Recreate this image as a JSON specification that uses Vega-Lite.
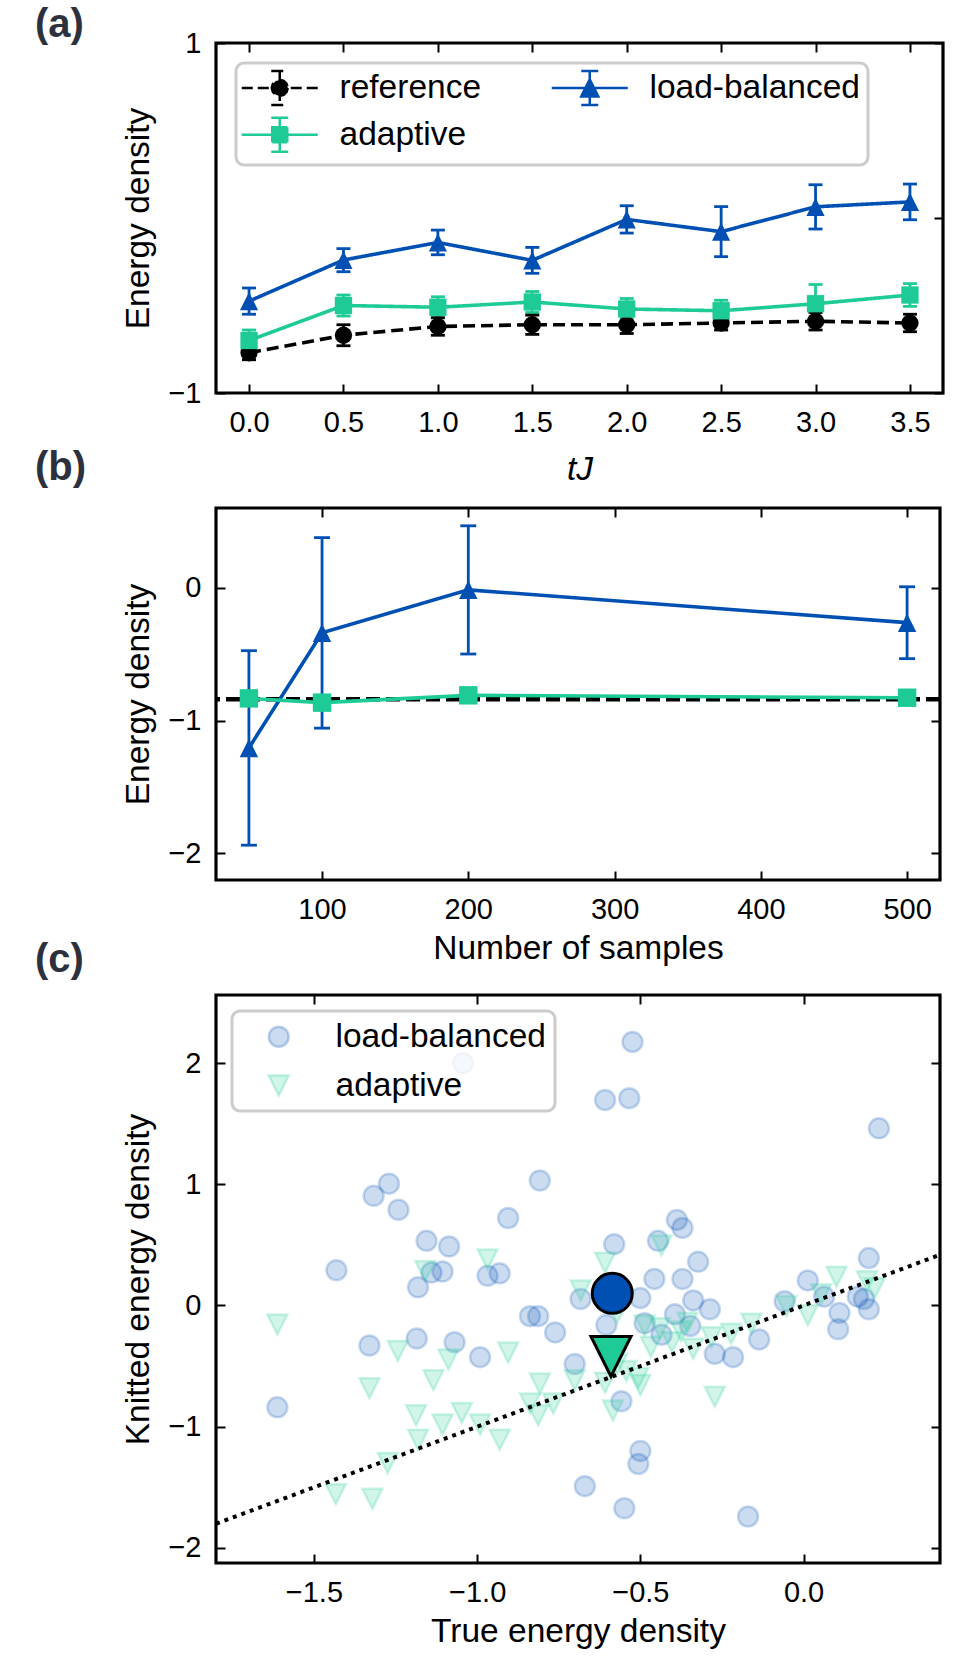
{
  "$schema": "https://vega.github.io/schema/vega-lite/v6.json",
  "background": "white",
  "padding": {"left": 33, "top": 3, "right": 5, "bottom": 5},
  "bounds": "flush",
  "spacing": 115,
  "resolve": {
    "scale": {"color": "independent", "shape": "independent", "stroke": "independent", "strokeDash": "independent", "size": "independent"},
    "legend": {"color": "independent", "shape": "independent", "stroke": "independent", "strokeDash": "independent", "size": "independent"}
  },
  "config": {
    "font": "Liberation Sans",
    "view": {"stroke": "black", "strokeWidth": 3.2},
    "axis": {
      "grid": false, "domain": false, "ticks": true, "tickSize": -9, "tickWidth": 2, "tickColor": "black",
      "labelFont": "Liberation Sans", "labelFontSize": 29, "labelColor": "black", "labelPadding": 24,
      "labelOverlap": false, "labelFlush": false,
      "titleFont": "Liberation Sans", "titleFontSize": 33.5, "titleFontWeight": "normal", "titleColor": "black"
    },
    "axisX": {"titlePadding": 8},
    "axisY": {"titlePadding": 12}
  },
  "datasets": {
    "a": [
      {"series": "reference", "x": 0, "y": -0.77, "lo": -0.81, "hi": -0.73},
      {"series": "reference", "x": 0.5, "y": -0.67, "lo": -0.73, "hi": -0.61},
      {"series": "reference", "x": 1.0, "y": -0.62, "lo": -0.67, "hi": -0.57},
      {"series": "reference", "x": 1.5, "y": -0.61, "lo": -0.665, "hi": -0.555},
      {"series": "reference", "x": 2.0, "y": -0.61, "lo": -0.66, "hi": -0.56},
      {"series": "reference", "x": 2.5, "y": -0.6, "lo": -0.64, "hi": -0.56},
      {"series": "reference", "x": 3.0, "y": -0.59, "lo": -0.64, "hi": -0.54},
      {"series": "reference", "x": 3.5, "y": -0.6, "lo": -0.65, "hi": -0.55},
      {"series": "adaptive", "x": 0, "y": -0.7, "lo": -0.76, "hi": -0.64},
      {"series": "adaptive", "x": 0.5, "y": -0.5, "lo": -0.56, "hi": -0.44},
      {"series": "adaptive", "x": 1.0, "y": -0.51, "lo": -0.57, "hi": -0.45},
      {"series": "adaptive", "x": 1.5, "y": -0.48, "lo": -0.54, "hi": -0.42},
      {"series": "adaptive", "x": 2.0, "y": -0.52, "lo": -0.58, "hi": -0.46},
      {"series": "adaptive", "x": 2.5, "y": -0.53, "lo": -0.59, "hi": -0.47},
      {"series": "adaptive", "x": 3.0, "y": -0.49, "lo": -0.6, "hi": -0.38},
      {"series": "adaptive", "x": 3.5, "y": -0.44, "lo": -0.505, "hi": -0.375},
      {"series": "load-balanced", "x": 0, "y": -0.475, "lo": -0.55, "hi": -0.4},
      {"series": "load-balanced", "x": 0.5, "y": -0.24, "lo": -0.307, "hi": -0.175},
      {"series": "load-balanced", "x": 1.0, "y": -0.14, "lo": -0.21, "hi": -0.069},
      {"series": "load-balanced", "x": 1.5, "y": -0.242, "lo": -0.316, "hi": -0.168},
      {"series": "load-balanced", "x": 2.0, "y": -0.008, "lo": -0.086, "hi": 0.07},
      {"series": "load-balanced", "x": 2.5, "y": -0.078, "lo": -0.221, "hi": 0.065},
      {"series": "load-balanced", "x": 3.0, "y": 0.064, "lo": -0.063, "hi": 0.19},
      {"series": "load-balanced", "x": 3.5, "y": 0.092, "lo": -0.01, "hi": 0.194}
    ],
    "bref": [{"y": -0.84}],
    "b": [
      {"series": "load-balanced", "x": 50, "y": -1.206, "lo": -1.938, "hi": -0.474},
      {"series": "load-balanced", "x": 100, "y": -0.34, "lo": -1.057, "hi": 0.377},
      {"series": "load-balanced", "x": 200, "y": -0.016, "lo": -0.499, "hi": 0.466},
      {"series": "load-balanced", "x": 500, "y": -0.263, "lo": -0.534, "hi": 0.007},
      {"series": "adaptive", "x": 50, "y": -0.833, "lo": -0.853, "hi": -0.813},
      {"series": "adaptive", "x": 100, "y": -0.865, "lo": -0.895, "hi": -0.835},
      {"series": "adaptive", "x": 200, "y": -0.81, "lo": -0.83, "hi": -0.79},
      {"series": "adaptive", "x": 500, "y": -0.828, "lo": -0.848, "hi": -0.808}
    ],
    "cpts": [
      {"series": "load-balanced", "x": -0.524, "y": 2.174},
      {"series": "load-balanced", "x": -1.043, "y": 1.998},
      {"series": "load-balanced", "x": -0.608, "y": 1.695},
      {"series": "load-balanced", "x": -0.534, "y": 1.71},
      {"series": "load-balanced", "x": 0.231, "y": 1.461},
      {"series": "load-balanced", "x": -1.27, "y": 1.005},
      {"series": "load-balanced", "x": -1.317, "y": 0.905},
      {"series": "load-balanced", "x": -0.808, "y": 1.031},
      {"series": "load-balanced", "x": -1.241, "y": 0.79},
      {"series": "load-balanced", "x": -0.905, "y": 0.721},
      {"series": "load-balanced", "x": -0.388, "y": 0.706},
      {"series": "load-balanced", "x": -0.371, "y": 0.64},
      {"series": "load-balanced", "x": -1.155, "y": 0.533},
      {"series": "load-balanced", "x": -1.086, "y": 0.487},
      {"series": "load-balanced", "x": -0.58, "y": 0.506},
      {"series": "load-balanced", "x": -0.446, "y": 0.533},
      {"series": "load-balanced", "x": -0.323, "y": 0.36},
      {"series": "load-balanced", "x": -1.431, "y": 0.291},
      {"series": "load-balanced", "x": -1.14, "y": 0.272},
      {"series": "load-balanced", "x": -1.106, "y": 0.28},
      {"series": "load-balanced", "x": -0.968, "y": 0.245},
      {"series": "load-balanced", "x": -0.931, "y": 0.265},
      {"series": "load-balanced", "x": -1.181, "y": 0.15},
      {"series": "load-balanced", "x": -0.457, "y": 0.219},
      {"series": "load-balanced", "x": -0.371, "y": 0.219},
      {"series": "load-balanced", "x": 0.2, "y": 0.391},
      {"series": "load-balanced", "x": 0.013, "y": 0.207},
      {"series": "load-balanced", "x": -0.683, "y": 0.054},
      {"series": "load-balanced", "x": -0.5, "y": 0.061},
      {"series": "load-balanced", "x": -0.338, "y": 0.042},
      {"series": "load-balanced", "x": -0.287, "y": -0.031},
      {"series": "load-balanced", "x": -0.058, "y": 0.035},
      {"series": "load-balanced", "x": 0.063, "y": 0.073},
      {"series": "load-balanced", "x": 0.11, "y": -0.061},
      {"series": "load-balanced", "x": 0.166, "y": 0.073},
      {"series": "load-balanced", "x": 0.2, "y": -0.031},
      {"series": "load-balanced", "x": 0.185, "y": 0.054},
      {"series": "load-balanced", "x": -0.838, "y": -0.088},
      {"series": "load-balanced", "x": -0.813, "y": -0.088},
      {"series": "load-balanced", "x": -0.761, "y": -0.222},
      {"series": "load-balanced", "x": -0.604, "y": -0.161},
      {"series": "load-balanced", "x": -0.487, "y": -0.146},
      {"series": "load-balanced", "x": -0.394, "y": -0.073},
      {"series": "load-balanced", "x": -0.435, "y": -0.242},
      {"series": "load-balanced", "x": -0.347, "y": -0.169},
      {"series": "load-balanced", "x": 0.106, "y": -0.196},
      {"series": "load-balanced", "x": -0.136, "y": -0.28},
      {"series": "load-balanced", "x": -1.185, "y": -0.272},
      {"series": "load-balanced", "x": -1.069, "y": -0.303},
      {"series": "load-balanced", "x": -1.33, "y": -0.33},
      {"series": "load-balanced", "x": -0.991, "y": -0.426},
      {"series": "load-balanced", "x": -0.272, "y": -0.399},
      {"series": "load-balanced", "x": -0.216, "y": -0.426},
      {"series": "load-balanced", "x": -0.701, "y": -0.483},
      {"series": "load-balanced", "x": -0.558, "y": -0.79},
      {"series": "load-balanced", "x": -1.612, "y": -0.84},
      {"series": "load-balanced", "x": -0.5, "y": -1.2},
      {"series": "load-balanced", "x": -0.506, "y": -1.307},
      {"series": "load-balanced", "x": -0.67, "y": -1.49},
      {"series": "load-balanced", "x": -0.549, "y": -1.672},
      {"series": "load-balanced", "x": -0.17, "y": -1.741},
      {"series": "adaptive", "x": -1.612, "y": -0.157},
      {"series": "adaptive", "x": -0.435, "y": 0.495},
      {"series": "adaptive", "x": -0.608, "y": 0.353},
      {"series": "adaptive", "x": -0.968, "y": 0.38},
      {"series": "adaptive", "x": -1.159, "y": 0.284},
      {"series": "adaptive", "x": -0.683, "y": 0.123},
      {"series": "adaptive", "x": 0.101, "y": 0.238},
      {"series": "adaptive", "x": 0.194, "y": 0.2},
      {"series": "adaptive", "x": 0.218, "y": 0.142},
      {"series": "adaptive", "x": 0.054, "y": 0.092},
      {"series": "adaptive", "x": -0.052, "y": -0.004},
      {"series": "adaptive", "x": 0.013, "y": -0.081},
      {"series": "adaptive", "x": -0.16, "y": -0.15},
      {"series": "adaptive", "x": -0.222, "y": -0.234},
      {"series": "adaptive", "x": -0.282, "y": -0.261},
      {"series": "adaptive", "x": -0.375, "y": -0.215},
      {"series": "adaptive", "x": -0.44, "y": -0.188},
      {"series": "adaptive", "x": -0.403, "y": -0.303},
      {"series": "adaptive", "x": -0.338, "y": -0.357},
      {"series": "adaptive", "x": -0.468, "y": -0.341},
      {"series": "adaptive", "x": -0.571, "y": -0.061},
      {"series": "adaptive", "x": -1.243, "y": -0.376},
      {"series": "adaptive", "x": -1.088, "y": -0.445},
      {"series": "adaptive", "x": -0.905, "y": -0.387},
      {"series": "adaptive", "x": -1.33, "y": -0.683},
      {"series": "adaptive", "x": -1.134, "y": -0.617},
      {"series": "adaptive", "x": -0.808, "y": -0.644},
      {"series": "adaptive", "x": -0.701, "y": -0.617},
      {"series": "adaptive", "x": -0.608, "y": -0.637},
      {"series": "adaptive", "x": -0.543, "y": -0.541},
      {"series": "adaptive", "x": -0.506, "y": -0.598},
      {"series": "adaptive", "x": -0.5, "y": -0.656},
      {"series": "adaptive", "x": -0.571, "y": -0.483},
      {"series": "adaptive", "x": -1.187, "y": -0.905},
      {"series": "adaptive", "x": -1.106, "y": -0.982},
      {"series": "adaptive", "x": -1.047, "y": -0.886},
      {"series": "adaptive", "x": -0.991, "y": -0.982},
      {"series": "adaptive", "x": -0.838, "y": -0.809},
      {"series": "adaptive", "x": -0.813, "y": -0.905},
      {"series": "adaptive", "x": -0.767, "y": -0.809},
      {"series": "adaptive", "x": -0.584, "y": -0.867},
      {"series": "adaptive", "x": -0.272, "y": -0.752},
      {"series": "adaptive", "x": -1.181, "y": -1.108},
      {"series": "adaptive", "x": -0.931, "y": -1.108},
      {"series": "adaptive", "x": -1.274, "y": -1.3},
      {"series": "adaptive", "x": -1.433, "y": -1.557},
      {"series": "adaptive", "x": -1.321, "y": -1.595},
      {"series": "adaptive", "x": -0.487, "y": -0.165},
      {"series": "adaptive", "x": -0.356, "y": -0.142}
    ],
    "cmean": [
      {"series": "load-balanced", "x": -0.586, "y": 0.1},
      {"series": "adaptive", "x": -0.59, "y": -0.42}
    ],
    "diag": [
      {"x": -1.8, "y": -1.8},
      {"x": 0.418, "y": 0.418}
    ]
  },
  "vconcat": [
    {
      "width": 727,
      "height": 350,
      "title": {"text": "(a)", "anchor": "start", "frame": "group", "dx": -181, "dy": 41, "offset": 5, "baseline": "middle", "fontSize": 40, "fontWeight": "bold", "color": "#2c313d", "font": "Liberation Sans"},
      "data": {"name": "a"},
      "resolve": {"axis": {"x": "independent", "y": "independent"}},
      "layer": [
        {
          "mark": {"type": "rule", "strokeWidth": 2.8},
          "encoding": {
            "x": {"field": "x", "type": "quantitative", "scale": {"domain": [-0.175, 3.675], "nice": false, "zero": false},
                  "axis": {"orient": "bottom", "values": [0, 0.5, 1, 1.5, 2, 2.5, 3, 3.5], "format": ".1f", "title": "tJ", "titleFontStyle": "italic", "titlePadding": 16}},
            "y": {"field": "lo", "type": "quantitative", "scale": {"domain": [-1, 1], "nice": false, "zero": false},
                  "axis": {"orient": "left", "values": [-1, 0, 1], "format": "d", "title": "Energy density"}},
            "y2": {"field": "hi"},
            "color": {"field": "series", "type": "nominal", "scale": {"domain": ["reference", "adaptive", "load-balanced"], "range": ["#000000", "#1ecb96", "#0050b4"]}}
          }
        },
        {
          "mark": {"type": "point", "shape": "M-1,0H1", "size": 196, "filled": false, "strokeWidth": 2.8, "opacity": 1},
          "encoding": {
            "x": {"field": "x", "type": "quantitative", "scale": {"domain": [-0.175, 3.675], "nice": false, "zero": false},
                  "axis": {"orient": "top", "values": [0, 0.5, 1, 1.5, 2, 2.5, 3, 3.5], "labels": false, "title": null}},
            "y": {"field": "lo", "type": "quantitative", "scale": {"domain": [-1, 1], "nice": false, "zero": false},
                  "axis": {"orient": "right", "values": [-1, 0, 1], "labels": false, "title": null}},
            "color": {"field": "series", "type": "nominal", "scale": {"domain": ["reference", "adaptive", "load-balanced"], "range": ["#000000", "#1ecb96", "#0050b4"]}}
          }
        },
        {
          "mark": {"type": "point", "shape": "M-1,0H1", "size": 196, "filled": false, "strokeWidth": 2.8, "opacity": 1},
          "encoding": {
            "x": {"field": "x", "type": "quantitative", "axis": null},
            "y": {"field": "hi", "type": "quantitative", "axis": null},
            "color": {"field": "series", "type": "nominal", "scale": {"domain": ["reference", "adaptive", "load-balanced"], "range": ["#000000", "#1ecb96", "#0050b4"]}}
          }
        },
        {
          "mark": {"type": "line", "strokeWidth": 3.6},
          "encoding": {
            "x": {"field": "x", "type": "quantitative", "axis": null},
            "y": {"field": "y", "type": "quantitative", "axis": null},
            "color": {"field": "series", "type": "nominal", "scale": {"domain": ["reference", "adaptive", "load-balanced"], "range": ["#000000", "#1ecb96", "#0050b4"]}},
            "strokeDash": {"field": "series", "type": "nominal", "scale": {"domain": ["reference", "adaptive", "load-balanced"], "range": [[12, 6], [1, 0], [1, 0]]}, "legend": null}
          }
        },
        {
          "transform": [{"filter": "datum.series === 'reference'"}],
          "mark": {"type": "point", "filled": true, "opacity": 1, "size": 300, "shape": "circle", "color": "#000000"},
          "encoding": {
            "x": {"field": "x", "type": "quantitative", "axis": null},
            "y": {"field": "y", "type": "quantitative", "axis": null}
          }
        },
        {
          "transform": [{"filter": "datum.series === 'adaptive'"}],
          "mark": {"type": "point", "filled": true, "opacity": 1, "size": 300, "shape": "square", "color": "#1ecb96"},
          "encoding": {
            "x": {"field": "x", "type": "quantitative", "axis": null},
            "y": {"field": "y", "type": "quantitative", "axis": null}
          }
        },
        {
          "transform": [{"filter": "datum.series === 'load-balanced'"}],
          "mark": {"type": "point", "filled": true, "opacity": 1, "size": 330, "shape": "M0,-1L1,1L-1,1Z", "color": "#0050b4"},
          "encoding": {
            "x": {"field": "x", "type": "quantitative", "axis": null},
            "y": {"field": "y", "type": "quantitative", "axis": null}
          }
        },
        {
          "transform": [{"filter": "datum.x == 0"}],
          "mark": {"type": "point", "filled": true, "opacity": 1, "size": 0, "strokeWidth": 2.5},
          "encoding": {
            "x": {"field": "x", "type": "quantitative", "axis": null},
            "y": {"field": "y", "type": "quantitative", "axis": null},
            "shape": {"field": "series", "type": "nominal", "scale": {"domain": ["reference", "adaptive", "load-balanced"], "range": [
              "M-3.8,0H-2.7M-2.2,0H-1.1M1.1,0H2.2M2.7,0H3.8M-0.6,0H0.6M0,-1.7V1.7M-0.85,-1.7H0.85M-0.85,1.7H0.85M0.8,0L0.693,0.4L0.4,0.693L0,0.8L-0.4,0.693L-0.693,0.4L-0.8,0L-0.693,-0.4L-0.4,-0.693L0,-0.8L0.4,-0.693L0.693,-0.4Z",
              "M-3.8,0H3.8M0,-1.7V1.7M-0.85,-1.7H0.85M-0.85,1.7H0.85M-0.75,-0.75H0.75V0.75H-0.75Z",
              "M-3.8,0H3.8M0,-1.7V1.7M-0.85,-1.7H0.85M-0.85,1.7H0.85M0,-0.85L0.85,0.85L-0.85,0.85Z"
            ]}},
            "stroke": {"field": "series", "type": "nominal", "scale": {"domain": ["reference", "adaptive", "load-balanced"], "range": ["#000000", "#1ecb96", "#0050b4"]}},
            "color": {"field": "series", "type": "nominal", "scale": {"domain": ["reference", "adaptive", "load-balanced"], "range": ["#000000", "#1ecb96", "#0050b4"]},
              "legend": {
                "title": null, "orient": "top-left", "offset": 20, "columns": 2, "columnPadding": 64, "rowPadding": 2, "padding": 8,
                "symbolSize": 400, "symbolOffset": 19, "labelOffset": 43, "labelFontSize": 33.5, "labelFont": "Liberation Sans", "labelColor": "black", "labelLimit": 400,
                "strokeColor": "#cccccc", "cornerRadius": 8, "fillColor": "rgba(255,255,255,0.8)", "symbolStrokeWidth": 2.5, "symbolOpacity": 1,
                "encoding": {
                  "legend": {"strokeWidth": {"value": 3}},
                  "symbols": {"strokeWidth": {"value": 2.5}, "opacity": {"value": 1}}
                }
              }
            }
          }
        }
      ]
    },
    {
      "width": 724,
      "height": 372,
      "title": {"text": "(b)", "anchor": "start", "frame": "group", "dx": -181, "dy": 43, "offset": 42, "baseline": "middle", "fontSize": 40, "fontWeight": "bold", "color": "#2c313d", "font": "Liberation Sans"},
      "resolve": {"axis": {"x": "independent", "y": "independent"}},
      "layer": [
        {
          "data": {"name": "bref"},
          "mark": {"type": "rule", "strokeWidth": 4.5, "strokeDash": [14, 6], "color": "black"},
          "encoding": {
            "y": {"field": "y", "type": "quantitative", "scale": {"domain": [-2.2, 0.6], "nice": false, "zero": false}, "axis": null}
          }
        },
        {
          "data": {"name": "b"},
          "mark": {"type": "rule", "strokeWidth": 2.8},
          "encoding": {
            "x": {"field": "x", "type": "quantitative", "scale": {"domain": [27.5, 522.5], "nice": false, "zero": false},
                  "axis": {"orient": "bottom", "values": [100, 200, 300, 400, 500], "format": "d", "title": "Number of samples"}},
            "y": {"field": "lo", "type": "quantitative", "scale": {"domain": [-2.2, 0.6], "nice": false, "zero": false},
                  "axis": {"orient": "left", "values": [-2, -1, 0], "format": "d", "title": "Energy density"}},
            "y2": {"field": "hi"},
            "color": {"field": "series", "type": "nominal", "scale": {"domain": ["load-balanced", "adaptive"], "range": ["#0050b4", "#1ecb96"]}, "legend": null}
          }
        },
        {
          "data": {"name": "b"},
          "mark": {"type": "point", "shape": "M-1,0H1", "size": 256, "filled": false, "strokeWidth": 2.8, "opacity": 1},
          "encoding": {
            "x": {"field": "x", "type": "quantitative", "scale": {"domain": [27.5, 522.5], "nice": false, "zero": false},
                  "axis": {"orient": "top", "values": [100, 200, 300, 400, 500], "labels": false, "title": null}},
            "y": {"field": "lo", "type": "quantitative", "scale": {"domain": [-2.2, 0.6], "nice": false, "zero": false},
                  "axis": {"orient": "right", "values": [-2, -1, 0], "labels": false, "title": null}},
            "color": {"field": "series", "type": "nominal", "scale": {"domain": ["load-balanced", "adaptive"], "range": ["#0050b4", "#1ecb96"]}, "legend": null}
          }
        },
        {
          "data": {"name": "b"},
          "mark": {"type": "point", "shape": "M-1,0H1", "size": 256, "filled": false, "strokeWidth": 2.8, "opacity": 1},
          "encoding": {
            "x": {"field": "x", "type": "quantitative", "axis": null},
            "y": {"field": "hi", "type": "quantitative", "axis": null},
            "color": {"field": "series", "type": "nominal", "scale": {"domain": ["load-balanced", "adaptive"], "range": ["#0050b4", "#1ecb96"]}, "legend": null}
          }
        },
        {
          "data": {"name": "b"},
          "mark": {"type": "line", "strokeWidth": 3.6},
          "encoding": {
            "x": {"field": "x", "type": "quantitative", "axis": null},
            "y": {"field": "y", "type": "quantitative", "axis": null},
            "color": {"field": "series", "type": "nominal", "scale": {"domain": ["load-balanced", "adaptive"], "range": ["#0050b4", "#1ecb96"]}, "legend": null}
          }
        },
        {
          "data": {"name": "b"},
          "mark": {"type": "point", "filled": true, "opacity": 1, "size": 340},
          "encoding": {
            "x": {"field": "x", "type": "quantitative", "axis": null},
            "y": {"field": "y", "type": "quantitative", "axis": null},
            "shape": {"field": "series", "type": "nominal", "scale": {"domain": ["load-balanced", "adaptive"], "range": ["M0,-1L1,1L-1,1Z", "square"]}, "legend": null},
            "color": {"field": "series", "type": "nominal", "scale": {"domain": ["load-balanced", "adaptive"], "range": ["#0050b4", "#1ecb96"]}, "legend": null}
          }
        }
      ]
    },
    {
      "width": 724,
      "height": 568,
      "title": {"text": "(c)", "anchor": "start", "frame": "group", "dx": -181, "dy": 38, "offset": 32, "baseline": "middle", "fontSize": 40, "fontWeight": "bold", "color": "#2c313d", "font": "Liberation Sans"},
      "resolve": {"axis": {"x": "independent", "y": "independent"}},
      "layer": [
        {
          "data": {"name": "cpts"},
          "mark": {"type": "point", "filled": true, "opacity": 1, "fillOpacity": 0.2, "strokeOpacity": 0.22, "strokeWidth": 2.5, "size": 400},
          "encoding": {
            "x": {"field": "x", "type": "quantitative", "scale": {"domain": [-1.8, 0.418], "nice": false, "zero": false},
                  "axis": {"orient": "bottom", "values": [-1.5, -1, -0.5, 0], "format": ".1f", "title": "True energy density"}},
            "y": {"field": "y", "type": "quantitative", "scale": {"domain": [-2.124, 2.561], "nice": false, "zero": false},
                  "axis": {"orient": "left", "values": [-2, -1, 0, 1, 2], "format": "d", "title": "Knitted energy density"}},
            "shape": {"field": "series", "type": "nominal", "scale": {"domain": ["load-balanced", "adaptive"], "range": ["circle", "M-1,-1L1,-1L0,1Z"]}},
            "stroke": {"field": "series", "type": "nominal", "scale": {"domain": ["load-balanced", "adaptive"], "range": ["#0050b4", "#1ecb96"]}},
            "color": {"field": "series", "type": "nominal", "scale": {"domain": ["load-balanced", "adaptive"], "range": ["#0050b4", "#1ecb96"]},
              "legend": {
                "title": null, "orient": "top-left", "offset": 16, "padding": 9, "rowPadding": 13.75,
                "symbolSize": 400, "symbolOffset": 21, "labelOffset": 40, "labelFontSize": 33.5, "labelFont": "Liberation Sans", "labelColor": "black", "labelLimit": 400,
                "strokeColor": "#cccccc", "cornerRadius": 8, "fillColor": "rgba(255,255,255,0.8)", "symbolStrokeWidth": 2.5,
                "encoding": {
                  "legend": {"strokeWidth": {"value": 3}},
                  "symbols": {
                    "fillOpacity": {"value": 0.2},
                    "strokeOpacity": {"value": 0.25},
                    "opacity": {"value": 1}
                  }
                }
              }
            }
          }
        },
        {
          "data": {"name": "diag"},
          "mark": {"type": "line", "color": "black", "strokeWidth": 4, "strokeDash": [4, 5], "strokeCap": "butt", "clip": true},
          "encoding": {
            "x": {"field": "x", "type": "quantitative", "scale": {"domain": [-1.8, 0.418], "nice": false, "zero": false},
                  "axis": {"orient": "top", "values": [-1.5, -1, -0.5, 0], "labels": false, "title": null}},
            "y": {"field": "y", "type": "quantitative", "scale": {"domain": [-2.124, 2.561], "nice": false, "zero": false},
                  "axis": {"orient": "right", "values": [-2, -1, 0, 1, 2], "labels": false, "title": null}}
          }
        },
        {
          "data": {"name": "cmean"},
          "mark": {"type": "point", "filled": true, "opacity": 1, "size": 1600, "stroke": "black", "strokeWidth": 3},
          "encoding": {
            "x": {"field": "x", "type": "quantitative", "axis": null},
            "y": {"field": "y", "type": "quantitative", "axis": null},
            "shape": {"field": "series", "type": "nominal", "scale": {"domain": ["load-balanced", "adaptive"], "range": ["circle", "M-1,-1L1,-1L0,1Z"]}, "legend": null},
            "color": {"field": "series", "type": "nominal", "scale": {"domain": ["load-balanced", "adaptive"], "range": ["#0050b4", "#1ecb96"]}, "legend": null}
          }
        }
      ]
    }
  ]
}
